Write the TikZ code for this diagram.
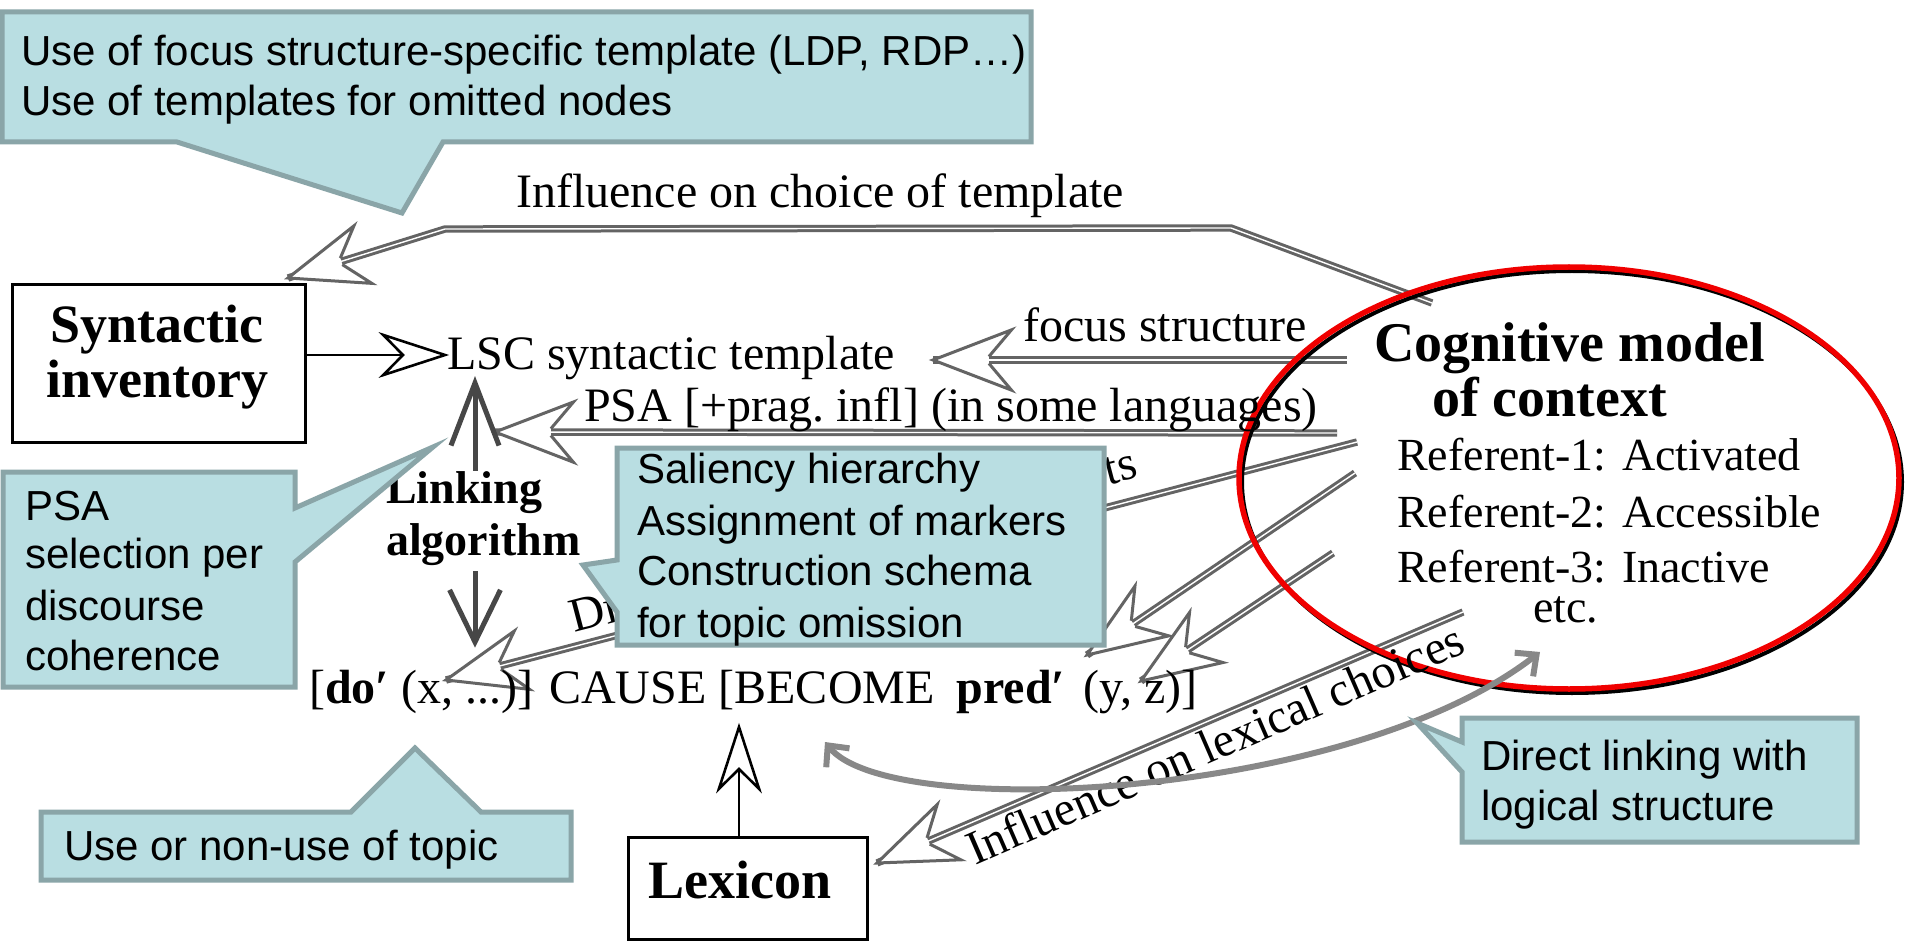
\documentclass[tikz,border=0pt]{standalone}
\usepackage{fontspec}
\setmainfont{Liberation Serif}
\newfontfamily\sansf{Liberation Sans}
\usetikzlibrary{calc,arrows.meta}

\definecolor{cfill}{RGB}{185,222,226}
\definecolor{cline}{RGB}{138,165,168}
\definecolor{hatchgray}{RGB}{100,100,100}
\definecolor{curvegray}{RGB}{136,136,136}
\definecolor{ctxred}{RGB}{240,0,0}

% hollow hatched arrow head: tip #1, pointing away from #2
\newcommand\hatchhead[2]{%
  \fill[white] (#1) -- ($(#1)!84pt!21:(#2)$) -- ($(#1)!56pt!3.5:(#2)$) -- ($(#1)!56pt!-3.5:(#2)$) -- ($(#1)!84pt!-21:(#2)$) -- cycle;
  \draw[hatch, line join=miter] ($(#1)!56pt!3.5:(#2)$) -- ($(#1)!84pt!21:(#2)$) -- (#1) -- ($(#1)!84pt!-21:(#2)$) -- ($(#1)!56pt!-3.5:(#2)$);}
% open black swallowtail head
\newcommand\openhead[2]{%
  \filldraw[fill=white, draw=black, line width=2.6pt, line join=miter] (#1) -- ($(#1)!65pt!18:(#2)$) -- ($(#1)!42pt!(#2)$) -- ($(#1)!65pt!-18:(#2)$) -- cycle;}
% plain V head for the linking arrows
\newcommand\veehead[4]{%
  \draw[linkarrow] ($(#1)!#3!#4:(#2)$) -- (#1) -- ($(#1)!#3!-#4:(#2)$);}

\begin{document}
\begin{tikzpicture}[x=1pt,y=-1pt,
  lbl/.style={anchor=base west, inner sep=0pt, font=\fontsize{48}{55}\selectfont},
  lblb/.style={anchor=base west, inner sep=0pt, font=\bfseries\fontsize{56}{60}\selectfont},
  boxtext/.style={anchor=base, inner sep=0pt, font=\bfseries\fontsize{54}{58}\selectfont},
  reftext/.style={anchor=base west, inner sep=0pt, font=\fontsize{46}{52}\selectfont},
  ctext/.style={anchor=base west, inner sep=0pt, font=\sansf\fontsize{42}{49}\selectfont},
  callout/.style={fill=cfill, draw=cline, line width=5pt, line join=miter},
  hatch/.style={draw=hatchgray, line width=3pt},
  hshaft/.style={hatch, double=white, double distance=1.4pt, line join=miter},
  blackbox/.style={draw=black, line width=3pt, inner sep=0pt},
  linkarrow/.style={draw=black!72, line width=5pt, line join=miter},
]
\useasboundingbox (0,0) rectangle (1907,941);
\fill[white] (0,0) rectangle (1907,941);

% ---- end points of the hatched influence arrows
\coordinate (h1s) at (1432,303);
\coordinate (h1a) at (1231,228);
\coordinate (h1b) at (445,229);
\coordinate (h1t) at (288,278);
\coordinate (h2s) at (1347,360);
\coordinate (h2t) at (933,360);
\coordinate (h3s) at (1337,433);
\coordinate (h3t) at (495,432);
\coordinate (h4s) at (1357,442);
\coordinate (h4t) at (446,680);
\coordinate (h6s) at (1355,473);
\coordinate (h6t) at (1087,655);
\coordinate (h7s) at (1333,553);
\coordinate (h7t) at (1141,681);
\coordinate (h8s) at (1463,612);
\coordinate (h8t) at (877,863);

% ---- hatched shafts
\draw[hshaft] (h1s) -- (h1a) -- (h1b) -- (h1t);
\draw[hshaft] (h2s) -- (h2t);
\draw[hshaft] (h3s) -- (h3t);
\draw[hshaft] (h4s) -- (h4t);
\draw[hshaft] (h6s) -- (h6t);
\draw[hshaft] (h7s) -- (h7t);
\draw[hshaft] (h8s) -- (h8t);
% ---- hatched heads
\hatchhead{h1t}{h1b}
\hatchhead{h2t}{h2s}
\hatchhead{h3t}{h3s}
\hatchhead{h4t}{h4s}
\hatchhead{h6t}{h6s}
\hatchhead{h7t}{h7s}
\hatchhead{h8t}{h8s}

% ---- cognitive model of context
\draw[black, line width=4pt] (1572,482) ellipse [x radius=330pt, y radius=211pt];
\draw[ctxred, line width=5.5pt] (1569,478) ellipse [x radius=330pt, y radius=211pt];
\node[lblb] (cog1) at (1374,362) {Cognitive model};
\node[lblb] (cog2) at (1432,417) {of context};
\node[reftext] (r1) at (1397,470) {Referent-1: Activated};
\node[reftext] (r2) at (1397,527) {Referent-2: Accessible};
\node[reftext] (r3) at (1397,582) {Referent-3: Inactive};
\node[reftext] (etc) at (1533,622) {etc.};

% ---- arrow labels
\node[lbl] (tmpl) at (516,208) {Influence on choice of template};
\node[lbl] (focus) at (1023,342) {focus structure};
\node[lbl] (psa) at (584,421) {PSA [+prag.\ infl] (in some languages)};
\node[lbl, rotate=14.7] (di) at (574,633) {Di};
\node[lbl, rotate=14.7, anchor=base east] (ts) at (1140,477) {ts};
\node[lbl, rotate=23.5] (lexinf) at (975,866) {Influence on lexical choices};

% ---- template and logical structure
\node[lbl] (lsc) at (447,370) {LSC syntactic template};
\node[lbl] (formula) at (309,703) {[\textbf{do′} (x, ...)] CAUSE [BECOME\hspace{10pt} \textbf{pred′}\hspace{6pt} (y, z)]};

% ---- syntactic inventory
\node[blackbox, minimum width=293pt, minimum height=157pt] (syn) at (158.5,363.5) {};
\node[boxtext] (syn1) at (157,343) {Syntactic};
\node[boxtext] (syn2) at (157,398) {inventory};
\coordinate (lscTip) at (445,355);
\draw[black, line width=2.6pt] (syn.east |- lscTip) -- (lscTip);
\openhead{lscTip}{syn.east |- lscTip}

% ---- lexicon
\node[blackbox, minimum width=239pt, minimum height=102pt] (lex) at (747.5,888) {};
\node[boxtext] (lexname) at (740,898) {Lexicon};
\coordinate (lexTip) at (739,727);
\draw[black, line width=2.6pt] (lexTip |- lex.north) -- (lexTip);
\openhead{lexTip}{lexTip |- lex.north}

% ---- linking algorithm (base anchor sits on the last line)
\node[anchor=base west, inner sep=0pt, align=left, font=\bfseries\fontsize{46}{52}\selectfont] (link) at (386,555) {Linking\\algorithm};
\coordinate (lkTop) at (475,383);
\coordinate (lkBot) at (475,642);
\draw[linkarrow] (lkTop |- link.north) -- (lkTop);
\veehead{lkTop}{lkTop |- link.north}{67pt}{21}
\draw[linkarrow] ($(lkBot |- link.south)+(0,6)$) -- (lkBot);
\veehead{lkBot}{lkTop}{58pt}{26}

% ---- direct linking curve
\coordinate (dlA) at (825,742);
\coordinate (dlB) at (1540,652);
\draw[curvegray, line width=6pt, {Straight Barb[length=16pt,width=30pt]}-{Straight Barb[length=16pt,width=30pt]}]
  (dlA) .. controls (890,822) and (1350,800) .. (dlB);

% ---- callouts
\draw[callout] (2,12) -- (1031,12) -- (1031,142) -- (443,142) -- (402,213) -- (177,142) -- (2,142) -- cycle;
\node[ctext] (ca1) at (21,66) {Use of focus structure-specific template (LDP, RDP…)};
\node[ctext] (ca2) at (21,116) {Use of templates for omitted nodes};

\draw[callout] (3,472) -- (295,472) -- (295,508) -- (433,447) -- (295,562) -- (295,687) -- (3,687) -- cycle;
\node[ctext] (cb1) at (25,520) {PSA};
\node[ctext] (cb2) at (25,568) {selection per};
\node[ctext] (cb3) at (25,620) {discourse};
\node[ctext] (cb4) at (25,670) {coherence};

\draw[callout] (617,448) -- (1104,448) -- (1104,645) -- (617,645) -- (617,612) -- (583,565) -- (617,560) -- cycle;
\node[ctext] (cc1) at (637,483) {Saliency hierarchy};
\node[ctext] (cc2) at (637,535) {Assignment of markers};
\node[ctext] (cc3) at (637,585) {Construction schema};
\node[ctext] (cc4) at (637,637) {for topic omission};

\draw[callout] (41,812) -- (351,812) -- (415,748) -- (481,812) -- (571,812) -- (571,880) -- (41,880) -- cycle;
\node[ctext] (cd1) at (64,860) {Use or non-use of topic};

\draw[callout] (1462,718) -- (1857,718) -- (1857,842) -- (1462,842) -- (1462,772) -- (1417,723) -- (1462,742) -- cycle;
\node[ctext] (ce1) at (1481,770) {Direct linking with};
\node[ctext] (ce2) at (1481,820) {logical structure};
\end{tikzpicture}
\end{document}
